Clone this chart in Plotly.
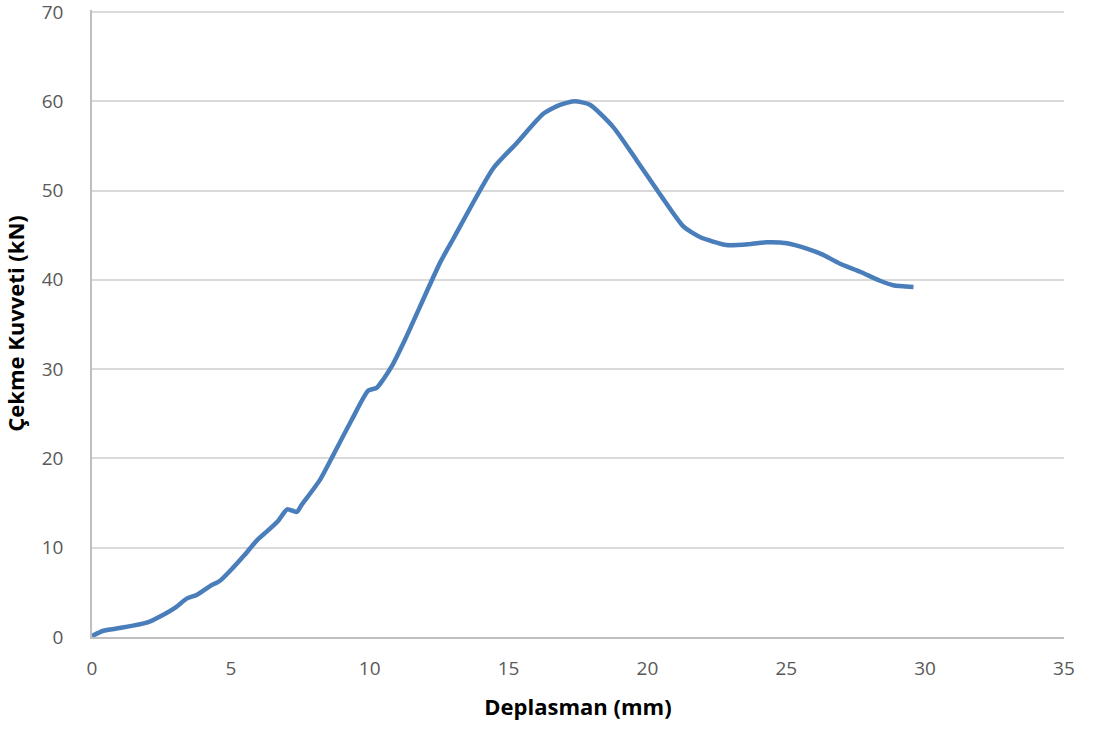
import plotly.graph_objects as go

deplasman = [0.0, 0.41, 1.0, 1.97, 2.45, 3.0, 3.41, 3.77, 4.25, 4.61, 5.09, 5.5, 5.93,
             6.29, 6.7, 7.03, 7.37, 7.55, 8.21, 8.69, 9.35, 9.95, 10.25, 10.5, 10.79,
             11.27, 12.53, 13.01, 14.45, 15.29, 16.25, 16.85, 17.39, 17.93, 18.77,
             19.61, 20.45, 21.29, 21.89, 22.85, 23.69, 24.29, 25.02, 25.74, 26.33,
             26.94, 27.66, 28.38, 28.85, 29.58]
kuvvet = [0.1, 0.7, 1.0, 1.6, 2.3, 3.3, 4.3, 4.7, 5.7, 6.3, 7.8, 9.2, 10.8,
          11.8, 13.0, 14.3, 14.0, 14.8, 17.6, 20.4, 24.3, 27.6, 27.9, 28.9, 30.3,
          33.3, 41.9, 44.6, 52.5, 55.3, 58.6, 59.6, 60.0, 59.6, 57.1,
          53.4, 49.6, 46.0, 44.8, 43.9, 44.0, 44.2, 44.1, 43.5, 42.8,
          41.8, 40.9, 39.9, 39.4, 39.2]

x_ticks = [0, 5, 10, 15, 20, 25, 30, 35]
y_ticks = [0, 10, 20, 30, 40, 50, 60, 70]

fig = go.Figure()
fig.add_trace(go.Scatter(
    x=deplasman, y=kuvvet, mode="lines",
    line=dict(color="#4a7ebb", width=4.5, shape="spline", smoothing=0.6),
    showlegend=False,
))

font_family = "Open Sans, Liberation Sans, sans-serif"
fig.update_layout(
    width=1093, height=731,
    margin=dict(l=92, r=29, t=10, b=94, autoexpand=False),
    paper_bgcolor="white", plot_bgcolor="white",
    font=dict(family=font_family),
    xaxis=dict(
        range=[0, 35.001], tickvals=x_ticks, showgrid=False, zeroline=False,
        showline=True, linecolor="#bfbfbf", linewidth=1.5,
        ticks="", ticklabelstandoff=13, automargin=False, ticklabeloverflow="allow",
        tickfont=dict(size=19, color="#595959"),
        title=dict(text="<b>Deplasman (mm)</b>", font=dict(size=22, color="black"), standoff=20),
    ),
    yaxis=dict(
        range=[0, 70.22], tickvals=y_ticks, showgrid=True, gridcolor="#d9d9d9", gridwidth=1.5,
        zeroline=False, showline=True, linecolor="#bfbfbf", linewidth=1.5,
        ticks="", ticklabelstandoff=23, automargin=False, ticklabeloverflow="allow",
        tickfont=dict(size=19, color="#595959"),
        title=dict(text="<b>Çekme Kuvveti (kN)</b>", font=dict(size=22, color="black"), standoff=12),
    ),
)

fig.write_html("out.html", config={"displayModeBar": False},
               post_script="document.body.style.margin='0';")
